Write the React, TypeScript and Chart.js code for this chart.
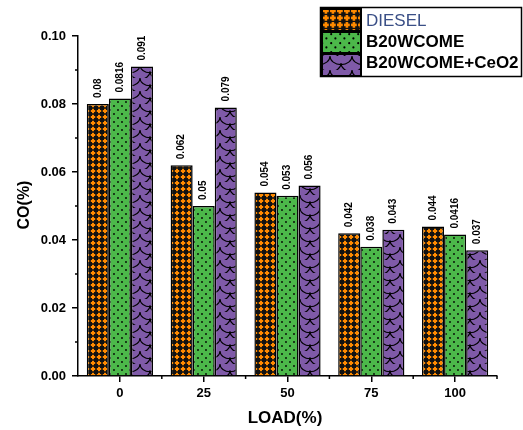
import React, { useEffect, useRef } from "react";
import { Chart, registerables } from "chart.js";

Chart.register(...registerables);

const categories = ["0", "25", "50", "75", "100"];
const seriesNames = ["DIESEL", "B20WCOME", "B20WCOME+CeO2"];
const diesel = [0.08, 0.062, 0.054, 0.042, 0.044];
const b20 = [0.0816, 0.05, 0.053, 0.038, 0.0416];
const b20ceo2 = [0.091, 0.079, 0.056, 0.043, 0.037];
const yTicks = [0, 0.02, 0.04, 0.06, 0.08, 0.1];

const FONT = "'Liberation Sans', Arial, sans-serif";

function makePattern(kind: string, scale = 1): CanvasPattern | string {
  const c = document.createElement("canvas");
  const ctx = c.getContext("2d")!;
  if (kind === "orange") {
    const s = 6 * scale;
    c.width = s; c.height = s;
    ctx.fillStyle = "#111";
    ctx.fillRect(0, 0, s, s);
    ctx.fillStyle = "#ff8a00";
    ctx.fillRect(0.8 * scale, 2 * scale, 4.4 * scale, 2 * scale);
    ctx.fillRect(2 * scale, 0.8 * scale, 2 * scale, 4.4 * scale);
  } else if (kind === "green") {
    const s = 8 * scale;
    c.width = s; c.height = s;
    ctx.fillStyle = "#4cb84a";
    ctx.fillRect(0, 0, s, s);
    ctx.fillStyle = "#000";
    ctx.beginPath();
    ctx.arc(2 * scale, 2 * scale, 0.9 * scale, 0, Math.PI * 2);
    ctx.arc(6 * scale, 6 * scale, 0.9 * scale, 0, Math.PI * 2);
    ctx.fill();
  } else {
    const w = 20 * scale, h = 13 * scale;
    c.width = w; c.height = h;
    ctx.fillStyle = "#7f5aa8";
    ctx.fillRect(0, 0, w, h);
    ctx.strokeStyle = "#000";
    ctx.lineWidth = 1.1;
    ctx.beginPath();
    ctx.ellipse(w / 2, 0, w / 2, h * 0.6, 0, 0, Math.PI);
    ctx.stroke();
    ctx.beginPath();
    ctx.ellipse(0, h / 2, w / 2, h * 0.6, 0, 0, Math.PI / 2);
    ctx.stroke();
    ctx.beginPath();
    ctx.ellipse(w, h / 2, w / 2, h * 0.6, 0, Math.PI / 2, Math.PI);
    ctx.stroke();
  }
  return ctx.createPattern(c, "repeat") as CanvasPattern;
}

export default function App() {
  const ref = useRef<HTMLCanvasElement | null>(null);

  useEffect(() => {
    document.body.style.margin = "0";
    const canvas = ref.current!;
    const patterns = [makePattern("orange"), makePattern("green"), makePattern("purple")];
    const legendPatterns = [makePattern("orange", 1.3), makePattern("green", 1.2), makePattern("purple", 1.1)];
    const allSeries = [diesel, b20, b20ceo2];

    const overlay = {
      id: "overlay",
      afterDraw(chart: any) {
        const ctx = chart.ctx as CanvasRenderingContext2D;
        const y = chart.scales.y;
        const area = chart.chartArea;
        ctx.save();
        // minor ticks
        ctx.strokeStyle = "#000";
        ctx.lineWidth = 1.5;
        for (let v = 0.01; v < 0.1; v += 0.02) {
          const py = y.getPixelForValue(v);
          ctx.beginPath();
          ctx.moveTo(area.left - 3, py);
          ctx.lineTo(area.left, py);
          ctx.stroke();
        }
        const step = (area.right - area.left) / categories.length;
        for (let k = 1; k <= categories.length; k++) {
          const px = area.left + k * step;
          ctx.beginPath();
          ctx.moveTo(px, area.bottom);
          ctx.lineTo(px, area.bottom + 3);
          ctx.stroke();
        }
        // data labels
        ctx.fillStyle = "#000";
        ctx.font = `bold 10px ${FONT}`;
        ctx.textAlign = "left";
        ctx.textBaseline = "middle";
        allSeries.forEach((arr, di) => {
          const meta = chart.getDatasetMeta(di);
          meta.data.forEach((bar: any, i: number) => {
            ctx.save();
            ctx.translate(bar.x, bar.y - 6);
            ctx.rotate(-Math.PI / 2);
            ctx.fillText(String(arr[i]), 0, 0);
            ctx.restore();
          });
        });
        // axis titles
        ctx.font = `bold 16px ${FONT}`;
        ctx.textAlign = "center";
        ctx.save();
        ctx.translate(25, 205);
        ctx.rotate(-Math.PI / 2);
        ctx.fillText("CO(%)", 0, 0);
        ctx.restore();
        ctx.font = `bold 17px ${FONT}`;
        ctx.fillText("LOAD(%)", 285, 418);
        // legend
        ctx.fillStyle = "#fff";
        ctx.fillRect(320, 7, 203, 70);
        ctx.lineWidth = 1.5;
        ctx.strokeStyle = "#000";
        ctx.strokeRect(320.5, 7.5, 201, 69);
        const rows = [
          { top: 9, h: 22, cy: 21 },
          { top: 32, h: 21, cy: 42 },
          { top: 54, h: 22, cy: 63 },
        ];
        rows.forEach((r, i) => {
          ctx.fillStyle = legendPatterns[i] as any;
          ctx.fillRect(322, r.top, 39, r.h);
          ctx.lineWidth = 2;
          ctx.strokeStyle = "#000";
          ctx.strokeRect(322, r.top, 39, r.h);
          ctx.textAlign = "left";
          ctx.textBaseline = "middle";
          if (i === 0) {
            ctx.font = `17px ${FONT}`;
            ctx.fillStyle = "#3a4f86";
          } else {
            ctx.font = `bold 17px ${FONT}`;
            ctx.fillStyle = "#000";
          }
          ctx.fillText(seriesNames[i], 366, r.cy);
        });
        ctx.restore();
      },
    };

    const chart = new Chart(canvas, {
      type: "bar",
      data: {
        labels: categories,
        datasets: allSeries.map((arr, i) => ({
          label: seriesNames[i],
          data: arr,
          backgroundColor: patterns[i] as any,
          borderColor: "#000",
          borderWidth: 1.5,
          categoryPercentage: 0.79,
          barPercentage: 1,
        })),
      },
      options: {
        responsive: false,
        animation: false,
        layout: { padding: { top: 36, right: 26, left: 0, bottom: 0 } },
        plugins: { legend: { display: false }, tooltip: { enabled: false } },
        scales: {
          x: {
            offset: true,
            grid: { display: true, drawOnChartArea: false, drawTicks: true, tickLength: 6, offset: false, color: "#000", lineWidth: 1.5 },
            border: { display: true, color: "#000", width: 1.5 },
            ticks: { color: "#000", font: { family: FONT, size: 13, weight: "bold" }, padding: 4, maxRotation: 0 },
            afterFit: (s: any) => { s.height = 54; },
          },
          y: {
            min: 0,
            max: 0.1,
            afterBuildTicks: (s: any) => { s.ticks = yTicks.map((v) => ({ value: v })); },
            grid: { display: true, drawOnChartArea: false, drawTicks: true, tickLength: 6, color: "#000", lineWidth: 1.5 },
            border: { display: true, color: "#000", width: 1.5 },
            ticks: {
              color: "#000",
              font: { family: FONT, size: 13, weight: "bold" },
              padding: 6,
              callback: (v: any) => Number(v).toFixed(2),
            },
            afterFit: (s: any) => { s.width = 78; },
          },
        },
      },
      plugins: [overlay],
    });
    return () => chart.destroy();
  }, []);

  return (
    <div style={{ width: 523, height: 430, background: "#fff" }}>
      <canvas ref={ref} width={523} height={430} style={{ display: "block" }} />
    </div>
  );
}
